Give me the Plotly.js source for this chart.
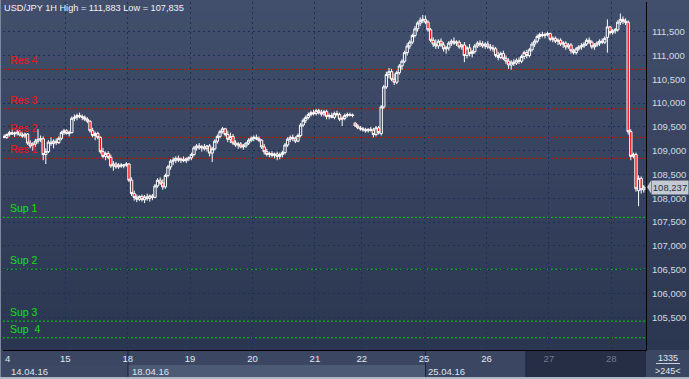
<!DOCTYPE html>
<html><head><meta charset="utf-8">
<script src="https://cdn.plot.ly/plotly-3.0.1.min.js"></script>
<style>html,body{margin:0;padding:0;background:#2c3751;overflow:hidden}#chart{width:689px;height:379px}</style>
</head><body><div id="chart"></div>
<script>
const symbol = 'USD/JPY 1H';
const openP = [109.30,109.28,109.34,109.38,109.35,109.37,109.40,109.33,109.31,109.35,109.16,109.10,109.14,109.20,109.24,109.25,108.92,108.98,109.18,109.15,109.20,109.17,109.26,109.38,
109.42,109.36,109.38,109.68,109.70,109.74,109.72,109.70,109.66,109.62,109.42,109.32,109.36,109.28,108.98,108.88,108.94,108.86,108.68,108.72,108.66,108.70,108.68,108.70,
108.72,108.38,108.10,108.02,107.98,108.04,107.97,108.03,108.00,108.05,108.02,108.26,108.38,108.32,108.24,108.48,108.66,108.78,108.80,108.84,108.80,108.82,108.79,108.83,
108.85,108.92,109.06,109.10,109.06,109.08,109.04,109.10,108.95,109.04,109.20,109.30,109.40,109.46,109.34,109.24,109.30,109.16,109.12,109.14,109.08,109.10,109.16,109.22,
109.26,109.28,109.25,109.22,109.08,108.98,108.92,108.94,108.90,108.93,108.88,108.92,108.96,109.12,109.24,109.28,109.26,109.20,109.32,109.54,109.64,109.70,109.76,109.80,
109.78,109.84,109.80,109.77,109.82,109.72,109.74,109.70,109.78,109.76,109.66,109.68,109.74,109.76,109.75,109.58,109.52,109.48,
109.46,109.44,109.42,109.45,109.43,109.34,109.48,109.36,109.92,110.34,110.60,110.66,110.50,110.44,110.64,110.78,110.88,111.06,111.20,111.28,111.42,111.56,111.68,111.74,
111.76,111.70,111.54,111.32,111.24,111.20,111.30,111.22,111.14,111.16,111.26,111.30,111.26,111.28,111.18,111.22,111.00,111.16,111.04,111.08,111.20,111.26,111.24,111.20,
111.24,111.18,111.16,111.14,111.00,110.96,111.04,110.94,110.88,110.80,110.86,110.84,110.90,110.88,110.98,111.06,111.00,111.12,111.24,111.30,111.40,111.44,111.42,111.44,
111.46,111.34,111.36,111.30,111.32,111.24,111.26,111.18,111.22,111.10,111.06,111.14,111.18,111.20,111.24,111.32,111.28,111.18,111.22,111.26,111.30,111.28,111.38,111.60,
111.48,111.52,111.54,111.70,111.76,111.72,111.70,109.40,108.88,108.92,108.16,108.42,108.18];
const highP = [109.34,109.36,109.42,109.45,109.40,109.44,109.43,109.38,109.38,109.37,109.22,109.18,109.25,109.45,109.32,109.30,109.05,109.22,109.28,109.24,109.26,109.30,109.42,109.46,
109.45,109.42,109.72,109.76,109.78,109.80,109.76,109.74,109.70,109.64,109.48,109.40,109.40,109.30,109.06,108.98,108.99,108.92,108.78,108.76,108.74,108.74,108.72,108.76,
108.74,108.44,108.16,108.08,108.06,108.08,108.07,108.10,108.08,108.09,108.30,108.42,108.44,108.40,108.52,108.70,108.82,108.86,108.88,108.90,108.86,108.88,108.86,108.88,
108.96,109.10,109.14,109.16,109.12,109.14,109.12,109.14,109.08,109.24,109.34,109.44,109.50,109.48,109.42,109.38,109.35,109.22,109.18,109.18,109.14,109.18,109.26,109.30,
109.32,109.34,109.30,109.24,109.14,109.04,108.98,108.99,108.96,108.98,108.96,109.00,109.16,109.28,109.32,109.34,109.30,109.36,109.58,109.68,109.74,109.80,109.84,109.86,
109.88,109.88,109.86,109.86,109.86,109.78,109.80,109.82,109.84,109.80,109.72,109.78,109.80,109.80,109.78,109.60,109.56,109.52,
109.50,109.48,109.47,109.50,109.48,109.52,109.52,109.96,110.38,110.66,110.74,110.72,110.62,110.68,110.82,110.92,111.10,111.26,111.32,111.46,111.62,111.72,111.80,111.85,
111.84,111.74,111.58,111.38,111.34,111.34,111.36,111.28,111.20,111.30,111.34,111.38,111.32,111.32,111.24,111.28,111.20,111.24,111.12,111.24,111.30,111.32,111.30,111.28,
111.30,111.24,111.22,111.18,111.08,111.08,111.10,111.00,110.94,110.90,110.92,110.94,110.96,111.02,111.10,111.12,111.16,111.28,111.34,111.44,111.48,111.50,111.48,111.50,
111.48,111.40,111.40,111.36,111.36,111.30,111.30,111.26,111.26,111.14,111.18,111.22,111.26,111.28,111.36,111.38,111.32,111.26,111.30,111.34,111.36,111.40,111.76,111.62,
111.56,111.58,111.74,111.883,111.82,111.78,111.74,109.45,108.96,108.96,108.48,108.46,108.28];
const lowP = [109.26,109.25,109.30,109.33,109.29,109.32,109.30,109.27,109.26,109.12,109.05,109.00,109.08,109.15,109.18,108.80,108.72,108.95,109.10,109.05,109.12,109.14,109.22,109.33,
109.34,109.30,109.36,109.62,109.64,109.68,109.64,109.62,109.58,109.38,109.28,109.22,109.24,108.94,108.84,108.80,108.82,108.64,108.58,108.62,108.62,108.64,108.63,108.66,
108.34,108.05,107.95,107.92,107.94,107.93,107.90,107.95,107.93,107.96,108.00,108.22,108.28,108.18,108.20,108.44,108.60,108.70,108.74,108.76,108.74,108.76,108.74,108.78,
108.80,108.88,109.00,109.02,108.98,109.00,108.98,108.88,108.76,109.00,109.15,109.26,109.36,109.30,109.18,109.16,109.12,109.08,109.04,109.05,109.02,109.06,109.12,109.18,
109.20,109.22,109.18,109.04,108.92,108.88,108.86,108.86,108.84,108.80,108.82,108.86,108.92,109.08,109.18,109.20,109.16,109.18,109.28,109.50,109.58,109.66,109.72,109.74,
109.74,109.76,109.72,109.72,109.66,109.66,109.68,109.66,109.72,109.62,109.52,109.64,109.70,109.72,109.70,109.50,109.45,109.42,
109.40,109.38,109.38,109.40,109.28,109.30,109.34,109.32,109.88,110.30,110.52,110.46,110.38,110.40,110.60,110.70,110.84,111.00,111.14,111.24,111.38,111.50,111.62,111.68,
111.66,111.50,111.28,111.18,111.14,111.14,111.18,111.08,111.04,111.10,111.20,111.22,111.20,111.14,111.12,110.86,110.94,110.98,110.96,111.04,111.16,111.18,111.16,111.14,
111.14,111.10,111.08,110.96,110.90,110.92,110.90,110.82,110.72,110.70,110.78,110.80,110.82,110.84,110.92,110.94,110.96,111.08,111.18,111.26,111.34,111.38,111.36,111.40,
111.30,111.28,111.26,111.22,111.20,111.16,111.12,111.14,111.04,111.02,111.02,111.10,111.12,111.16,111.20,111.24,111.14,111.12,111.18,111.20,111.24,111.24,111.06,111.44,
111.44,111.46,111.50,111.64,111.66,111.64,109.34,108.80,108.84,108.14,107.835,108.10,108.12];
const closeP = [109.28,109.34,109.38,109.35,109.37,109.40,109.33,109.31,109.35,109.16,109.10,109.14,109.20,109.24,109.25,108.92,108.98,109.18,109.15,109.20,109.17,109.26,109.38,109.42,
109.36,109.38,109.68,109.70,109.74,109.72,109.70,109.66,109.62,109.42,109.32,109.36,109.28,108.98,108.88,108.94,108.86,108.68,108.72,108.66,108.70,108.68,108.70,108.72,
108.38,108.10,108.02,107.98,108.04,107.97,108.03,108.00,108.05,108.02,108.26,108.38,108.32,108.24,108.48,108.66,108.78,108.80,108.84,108.80,108.82,108.79,108.83,108.85,
108.92,109.06,109.10,109.06,109.08,109.04,109.10,108.95,109.04,109.20,109.30,109.40,109.46,109.34,109.24,109.30,109.16,109.12,109.14,109.08,109.10,109.16,109.22,109.26,
109.28,109.25,109.22,109.08,108.98,108.92,108.94,108.90,108.93,108.88,108.92,108.96,109.12,109.24,109.28,109.26,109.20,109.32,109.54,109.64,109.70,109.76,109.80,109.78,
109.84,109.80,109.77,109.82,109.72,109.74,109.70,109.78,109.76,109.66,109.68,109.74,109.76,109.75,109.74,109.52,109.48,109.46,
109.44,109.42,109.45,109.43,109.34,109.48,109.38,109.92,110.34,110.60,110.66,110.50,110.44,110.64,110.78,110.88,111.06,111.20,111.28,111.42,111.56,111.68,111.74,111.76,
111.70,111.54,111.32,111.24,111.20,111.30,111.22,111.14,111.16,111.26,111.30,111.26,111.28,111.18,111.22,111.00,111.16,111.04,111.08,111.20,111.26,111.24,111.20,111.24,
111.18,111.16,111.14,111.00,110.96,111.04,110.94,110.88,110.80,110.86,110.84,110.90,110.88,110.98,111.06,111.00,111.12,111.24,111.30,111.40,111.44,111.42,111.44,111.46,
111.34,111.36,111.30,111.32,111.24,111.26,111.18,111.22,111.10,111.06,111.14,111.18,111.20,111.24,111.32,111.28,111.18,111.22,111.26,111.30,111.28,111.36,111.60,111.48,
111.52,111.54,111.70,111.76,111.72,111.70,109.40,108.88,108.92,108.20,108.42,108.18,108.237];

const dayLabels = ['15','18','19','20','21','22','25','26','27','28'];
const dayStartBar = [24,48,72,96,120,138,162,186,210,234];
const dateLabels = ['14.04.16','18.04.16','25.04.16'];
const dateStartBar = [0,48,162];
const firstDayLabel = '4';
const resNames = ['Res 1','Res 2','Res 3','Res 4'];
const resLevels = [108.84,109.28,109.88,110.71];
const supNames = ['Sup 1','Sup 2','Sup 3','Sup\u00a0 4'];
const supLevels = [107.60,106.51,105.42,105.07];
const yTicks = [105.5,106.0,106.5,107.0,107.5,108.0,108.5,109.0,109.5,110.0,110.5,111.0,111.5];
const totalBars = 1335;
const visibleBars = 245;

const fmt = v => v.toFixed(3).replace('.', ',');
const xIdx = closeP.map((_, i) => i);
const hi = Math.max(...highP), lo = Math.min(...lowP);
const last = closeP[closeP.length - 1];

const XR = [-0.46, 246.85];
const W = 643, H = 348;
const px = x => (x - 3) / W;
const py = y => (350 - y) / H;
const barToPaper = b => (b - XR[0]) / (XR[1] - XR[0]);

const shapes = [];
const c0 = [66,79,108], c1 = [43,54,80];
for (let k = 0; k < 35; k++) {
  const t = k / 34;
  const c = c0.map((a, j) => Math.round(a + (c1[j] - a) * t));
  shapes.push({type:'rect', xref:'paper', yref:'paper', x0:px(0), x1:px(689), y0:py(k*10), y1:py(k*10+10.5),
    fillcolor:`rgb(${c[0]},${c[1]},${c[2]})`, line:{width:0}, layer:'below'});
}
const rect = (x0,x1,y0,y1,col) => shapes.push({type:'rect', xref:'paper', yref:'paper', x0:px(x0), x1:px(x1), y0:py(y0), y1:py(y1), fillcolor:col, line:{width:0}, layer:'below'});
rect(0,526,350,365,'#3a4662');
rect(526,646,350,377,'#252e45');
rect(0,128,365,377,'#3c4864');
rect(128,425.5,365,377,'#4c5a76');
rect(425.5,526,365,377,'#3a4662');
rect(646,689,350,377,'#3a4662');
rect(0,689,377,379,'#aeb7c4');
rect(0,1,0,377,'#7d889c');
const vline = (x,y0,y1,col) => shapes.push({type:'line', xref:'paper', yref:'paper', x0:px(x), x1:px(x), y0:py(y0), y1:py(y1), line:{color:col,width:1}, layer:'below'});
vline(128,350,377,'#1b2436');
vline(425.5,350,377,'#1b2436');
vline(526,350,377,'#1b2436');
shapes.push({type:'line', xref:'paper', yref:'paper', x0:px(656), x1:px(680), y0:py(363.5), y1:py(363.5), line:{color:'#c8d0dc',width:1}});
resLevels.forEach(v => shapes.push({type:'line', xref:'paper', yref:'y', x0:0, x1:1, y0:v, y1:v, line:{color:'#e00000', width:1, dash:'3px,1px'}, layer:'between'}));
supLevels.forEach(v => shapes.push({type:'line', xref:'paper', yref:'y', x0:0, x1:1, y0:v, y1:v, line:{color:'#00d000', width:1, dash:'2px,2px'}, layer:'between'}));
const hy = 6.5 / 47.6;
shapes.push({type:'path', xref:'paper', yref:'y', path:`M ${px(647)},${last} L ${px(651)},${last+hy} L ${px(651)},${last-hy} Z`, fillcolor:'#c4c9d2', line:{width:0}});

const annotations = [];
const FONT = 'Liberation Sans, Arial, sans-serif';
resNames.forEach((n, i) => annotations.push({text:n, xref:'paper', yref:'y', x:px(8), y:resLevels[i], xanchor:'left', yanchor:'bottom', yshift:1, showarrow:false, font:{family:FONT, size:10.5, color:'#ff1010'}}));
supNames.forEach((n, i) => annotations.push({text:n, xref:'paper', yref:'y', x:px(8), y:supLevels[i], xanchor:'left', yanchor:'bottom', yshift:1, showarrow:false, font:{family:FONT, size:10.5, color:'#10e010'}}));
dateLabels.forEach((d, i) => annotations.push({text:d, xref:'paper', yref:'paper', x:barToPaper(dateStartBar[i]-0.5), y:py(371), xanchor:'left', yanchor:'middle', xshift: i===0 ? 6 : 2, showarrow:false, font:{family:FONT, size:9.5, color:'#dfe5ee'}}));
annotations.push({text:firstDayLabel, xref:'paper', yref:'paper', x:px(2.5), y:py(358), xanchor:'left', yanchor:'middle', showarrow:false, font:{family:FONT, size:9.5, color:'#e4e9f0'}});
annotations.push({text:String(totalBars), xref:'paper', yref:'paper', x:px(668), y:py(357.5), xanchor:'center', yanchor:'middle', showarrow:false, font:{family:FONT, size:9, color:'#e4e9f0'}});
annotations.push({text:'&gt;' + visibleBars + '&lt;', xref:'paper', yref:'paper', x:px(668), y:py(370.5), xanchor:'center', yanchor:'middle', showarrow:false, font:{family:FONT, size:9, color:'#e4e9f0'}});
annotations.push({text:fmt(last), xref:'paper', yref:'y', x:px(651), y:last, xanchor:'left', yanchor:'middle', showarrow:false, bgcolor:'#c4c9d2', borderpad:1, width:34, height:11, font:{family:FONT, size:9.5, color:'#2b3140'}});

const trace = {
  type:'candlestick', x:xIdx, open:openP, high:highP, low:lowP, close:closeP,
  increasing:{line:{color:'#ffffff', width:1}, fillcolor:'rgba(0,0,0,0)'},
  decreasing:{line:{color:'#ffffff', width:1}, fillcolor:'#ff0000'},
  whiskerwidth:0, hoverinfo:'skip'
};

const gridStyle = {showgrid:true, gridcolor:'#1c3158', gridwidth:1, griddash:'2px,3px', zeroline:false};
const dimmed = s => '<span style="color:#6d7a92">' + s + '</span>';
const layout = {
  width:689, height:379,
  margin:{l:3, r:43, t:2, b:29, pad:0},
  paper_bgcolor:'#2c3751', plot_bgcolor:'rgba(0,0,0,0)',
  showlegend:false, boxgap:0.1, boxgroupgap:0,
  title:{text:`${symbol} High = ${fmt(hi)} Low = ${fmt(lo)}`, x:4/689, xref:'container', xanchor:'left', y:1-8/379, yref:'container', yanchor:'middle', font:{family:FONT, size:9.2, color:'#f0f3f7'}},
  xaxis:Object.assign({}, gridStyle, {range:XR, tickmode:'array', tickvals:dayStartBar.map(v => v - 0.5),
    ticktext:dayLabels.map((d, i) => dayStartBar[i] >= 210 ? dimmed(d) : d),
    showline:true, linecolor:'#000000', linewidth:1, ticks:'', tickfont:{family:FONT, size:9.5, color:'#e4e9f0'},
    rangeslider:{visible:false}, fixedrange:true}),
  yaxis:Object.assign({}, gridStyle, {side:'right', range:[104.813, 112.124], tickmode:'array', tickvals:yTicks, ticktext:yTicks.map(fmt),
    showline:true, linecolor:'#000000', linewidth:1, ticks:'', ticklabelstandoff:3, tickfont:{family:FONT, size:9.5, color:'#d3dae4'}, fixedrange:true}),
  shapes, annotations
};
Plotly.newPlot('chart', [trace], layout, {staticPlot:true, displayModeBar:false});
</script></body></html>
